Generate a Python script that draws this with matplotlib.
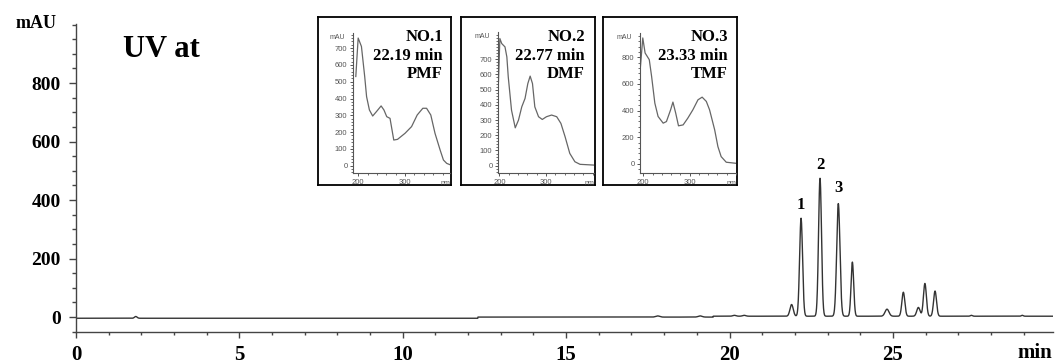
import numpy as np
import matplotlib
matplotlib.use("Agg")
import matplotlib.pyplot as plt
from matplotlib.ticker import MultipleLocator

# chromatogram peak table: retention time (min), height (mAU), width sigma (min)
peak_rt = [1.83, 17.8, 19.1, 20.15, 20.45, 21.9, 22.19, 22.77, 23.33, 23.76,
           24.82, 25.32, 25.78, 25.98, 26.29, 27.4, 28.96]
peak_height = [6, 4, 4, 3, 3, 40, 335, 472, 385, 185,
               24, 82, 30, 112, 86, 3, 3]
peak_sigma = [0.04, 0.06, 0.06, 0.05, 0.05, 0.05, 0.045, 0.045, 0.05, 0.04,
              0.06, 0.045, 0.05, 0.045, 0.045, 0.03, 0.03]
# baseline levels: before / after the small steps
base_step_rt = [12.3, 19.5]
base_levels = [-4, 0, 3]

labelled_rt = [22.19, 22.77, 23.33]
labelled_y = [383, 520, 441]
labelled_txt = ["1", "2", "3"]

# UV spectra of the three labelled peaks (nm, mAU)
spec1_nm = [195, 200, 207, 214, 218, 224, 231, 239, 249, 255, 261, 268, 276, 284,
            300, 314, 326, 338, 346, 355, 364, 375, 382, 389, 398]
spec1_mau = [531, 760, 710, 530, 411, 332, 296, 322, 356, 332, 292, 282, 153, 157,
             193, 233, 302, 342, 342, 302, 193, 93, 34, 14, 4]
spec2_nm = [198, 201, 205, 212, 216, 219, 226, 234, 241, 248, 255, 261, 266, 271,
            276, 284, 292, 301, 312, 323, 332, 341, 351, 362, 373, 403]
spec2_mau = [551, 836, 803, 781, 715, 584, 365, 249, 300, 387, 442, 540, 589, 540,
             387, 322, 304, 322, 333, 322, 278, 190, 81, 26, 9, 4]
spec3_nm = [194, 199, 204, 213, 218, 225, 232, 243, 250, 259, 264, 270, 276, 286,
            296, 307, 318, 327, 336, 343, 354, 361, 368, 379, 400]
spec3_mau = [732, 945, 832, 782, 657, 456, 356, 306, 318, 406, 464, 381, 286, 293,
             343, 406, 481, 501, 469, 406, 256, 130, 55, 13, 5]

insets = [
    dict(nm=spec1_nm, mau=spec1_mau, title=["NO.1", "22.19 min", "PMF"],
         box=(318, 451), ax=(353, 450, 33), xlim=(189, 396), ylim=(-45, 790),
         ystep=100, ymax=700, txt_x=443),
    dict(nm=spec2_nm, mau=spec2_mau, title=["NO.2", "22.77 min", "DMF"],
         box=(461, 595), ax=(498, 594, 32), xlim=(197, 403), ylim=(-50, 879),
         ystep=100, ymax=700, txt_x=585),
    dict(nm=spec3_nm, mau=spec3_mau, title=["NO.3", "23.33 min", "TMF"],
         box=(603, 737), ax=(640, 736, 33), xlim=(193, 400), ylim=(-70, 982),
         ystep=200, ymax=800, txt_x=728),
]

W, H = 1056, 364
serif = "Liberation Serif"
sans = "Liberation Sans"


def fx(px):
    return px / W


def fy(py):
    return 1 - py / H


fig = plt.figure(figsize=(W / 100, H / 100), dpi=100)
ax = fig.add_axes([fx(76), fy(332), fx(1053 - 76), (332 - 24) / H])

t = np.linspace(0, 29.9, 6000)
signal = np.full_like(t, base_levels[0], dtype=float)
signal[t >= base_step_rt[0]] = base_levels[1]
signal[t >= base_step_rt[1]] = base_levels[2]
for rt, h, s in zip(peak_rt, peak_height, peak_sigma):
    signal += h * np.exp(-0.5 * ((t - rt) / s) ** 2)

line_col = "#333333"
ax.plot(t, signal, color=line_col, lw=1.0)

ax.set_xlim(0, 29.9)
ax.set_ylim(-51, 1002)
ax.spines["top"].set_visible(False)
ax.spines["right"].set_visible(False)
for sp in ["left", "bottom"]:
    ax.spines[sp].set_color("#444444")
    ax.spines[sp].set_linewidth(1.0)

ax.set_xticks([0, 5, 10, 15, 20, 25])
ax.xaxis.set_minor_locator(MultipleLocator(1))
ax.set_yticks([0, 200, 400, 600, 800])
ax.yaxis.set_minor_locator(MultipleLocator(50))
ax.tick_params(axis="x", which="major", length=4, width=1, pad=5, colors="#444444",
               labelcolor="black")
ax.tick_params(axis="x", which="minor", length=2.5, width=1, colors="#444444")
ax.tick_params(axis="y", which="major", length=5, width=1, pad=6, colors="#444444",
               labelcolor="black")
ax.tick_params(axis="y", which="minor", length=3, width=1, colors="#444444")
for lab in ax.get_xticklabels():
    lab.set_fontfamily(serif)
    lab.set_fontweight("bold")
    lab.set_fontsize(15)
for lab in ax.get_yticklabels():
    lab.set_fontfamily(serif)
    lab.set_fontweight("bold")
    lab.set_fontsize(14)

fig.text(fx(57), fy(28), "mAU", ha="right", va="baseline", fontfamily=serif,
         fontweight="bold", fontsize=13)
fig.text(fx(1052), fy(358), "min", ha="right", va="baseline", fontfamily=serif,
         fontweight="bold", fontsize=15)
fig.text(fx(123), fy(57), "UV at", ha="left", va="baseline", fontfamily=serif,
         fontweight="bold", fontsize=22)

for rt, y, s in zip(labelled_rt, labelled_y, labelled_txt):
    ax.text(rt, y, s, ha="center", va="center", fontfamily=serif,
            fontweight="bold", fontsize=12)

for ins in insets:
    b0, b1 = ins["box"]
    box = fig.add_axes([fx(b0), fy(185), fx(b1 - b0), (185 - 17) / H])
    box.set_xticks([])
    box.set_yticks([])
    box.patch.set_alpha(0)
    for sp in box.spines.values():
        sp.set_linewidth(1.3)
        sp.set_color("black")

    a0, a1, atop = ins["ax"]
    iax = fig.add_axes([fx(a0), fy(173.3), fx(a1 - a0), (173.3 - atop) / H])
    iax.patch.set_alpha(0)
    iax.plot(ins["nm"], ins["mau"], color="#666666", lw=0.9)
    iax.set_xlim(*ins["xlim"])
    iax.set_ylim(*ins["ylim"])
    iax.spines["top"].set_visible(False)
    iax.spines["right"].set_visible(False)
    for sp in ["left", "bottom"]:
        iax.spines[sp].set_color("#555555")
        iax.spines[sp].set_linewidth(0.8)
    iax.set_xticks([200, 300])
    iax.xaxis.set_minor_locator(MultipleLocator(20))
    iax.set_yticks(np.arange(0, ins["ymax"] + 1, ins["ystep"]))
    iax.yaxis.set_minor_locator(MultipleLocator(ins["ystep"] / 5))
    iax.tick_params(which="major", length=2.5, width=0.7, pad=1.5, colors="#555555",
                    labelsize=5.5)
    iax.tick_params(which="minor", length=1.3, width=0.6, colors="#555555")
    for lab in iax.get_xticklabels() + iax.get_yticklabels():
        lab.set_fontfamily(sans)
    iax.text(-0.08, 0.97, "mAU", transform=iax.transAxes, ha="right", va="center",
             fontsize=5, color="#555555", fontfamily=sans)
    iax.text(1.0, -0.075, "nm", transform=iax.transAxes, ha="right", va="center",
             fontsize=5, color="#555555", fontfamily=sans)

    for txt, base in zip(ins["title"], [40.7, 60, 78]):
        fig.text(fx(ins["txt_x"]), fy(base), txt, ha="right", va="baseline",
                 fontfamily=serif, fontweight="bold", fontsize=12)

fig.savefig("out.png", dpi=100)
